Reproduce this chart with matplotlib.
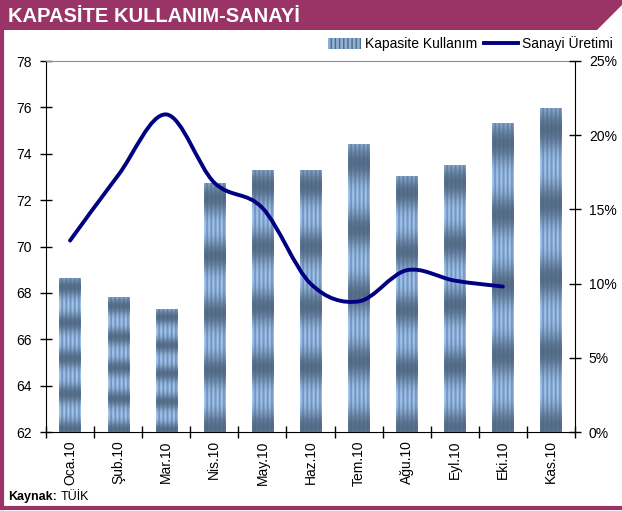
import numpy as np
import matplotlib.pyplot as plt
from matplotlib.path import Path
from matplotlib.patches import PathPatch, Patch, Polygon
from matplotlib.lines import Line2D
from matplotlib.ticker import FuncFormatter

plt.rcParams['font.family'] = ['Liberation Sans Narrow', 'Liberation Sans', 'DejaVu Sans']

# data
months = ["Oca.10", "Şub.10", "Mar.10", "Nis.10", "May.10", "Haz.10",
          "Tem.10", "Ağu.10", "Eyl.10", "Eki.10", "Kas.10"]
capacity = [68.65, 67.82, 67.30, 72.74, 73.30, 73.30, 74.42, 73.04, 73.51, 75.32, 75.97]
production = [12.9, 17.3, 21.4, 16.8, 15.1, 10.0, 8.8, 10.9, 10.2, 9.8]

plum = '#9B3466'
navy = '#000080'


def bar_texture(h=300, w=42, periods=4.35):
    y = np.linspace(0, 1, h)[:, None, None]
    x = np.arange(w)[None, :, None]
    light = np.array([0.62, 0.77, 0.94])
    mid = np.array([0.47, 0.59, 0.74])
    dark = np.array([0.30, 0.39, 0.49])
    stripe = (x % 8 < 4).astype(float)
    base = mid + (light - mid) * stripe
    shade = 0.88 * (0.5 + 0.5 * np.cos(2 * np.pi * (periods * y - 0.28))) ** 1.3
    return base * (1 - shade) + dark * shade


fig = plt.figure(figsize=(6.22, 5.11), dpi=100)
ax = fig.add_axes([46 / 622, 79 / 511, 529 / 622, 371 / 511])
ax2 = ax.twinx()

x = np.arange(len(months))
bars = ax.bar(x, capacity, width=0.44, color='#8FAFD3', linewidth=0, zorder=2)
ymin, ymax = 62, 78
for rect in bars:
    x0, w = rect.get_x(), rect.get_width()
    y1 = rect.get_y() + rect.get_height()
    im = ax.imshow(bar_texture(), extent=(x0, x0 + w, ymin, y1), aspect='auto',
                   interpolation='bilinear', zorder=3)
    im.set_clip_path(rect)

ax.set_xlim(-0.5, len(months) - 0.5)
ax.set_ylim(ymin, ymax)
ax.set_yticks(np.arange(62, 79, 2))
ax.set_xticks(np.arange(-0.5, len(months), 1))
ax.set_xticklabels([])
ax.set_xticks(x, minor=True)
ax.set_xticklabels(months, minor=True, rotation=90, fontsize=10)
ax.tick_params(axis='x', which='major', direction='inout', length=8, width=1)
ax.tick_params(axis='x', which='minor', length=0, pad=6)
ax.tick_params(axis='y', direction='inout', length=8, width=1, labelsize=10, pad=6)
ax.spines['top'].set_color('#909090')
ax.spines['right'].set_visible(False)

# smooth line as bezier segments through the data points
pts = np.column_stack([np.arange(len(production)), production])
ext = np.vstack([pts[0], pts, pts[-1]])
verts = [pts[0]]
codes = [Path.MOVETO]
for i in range(len(pts) - 1):
    p0, p1, p2, p3 = ext[i], ext[i + 1], ext[i + 2], ext[i + 3]
    verts += [p1 + (p2 - p0) / 6, p2 - (p3 - p1) / 6, p2]
    codes += [Path.CURVE4] * 3
ax2.add_patch(PathPatch(Path(verts, codes), fill=False, edgecolor=navy,
                        linewidth=2.8, capstyle='round', joinstyle='round', zorder=4))
ax2.set_ylim(0, 25)
ax2.set_yticks(np.arange(0, 26, 5))
ax2.yaxis.set_major_formatter(FuncFormatter(lambda v, p: f"{v:.0f}%"))
ax2.tick_params(axis='y', direction='inout', length=8, width=1, labelsize=10, pad=6)
for s in ['top', 'left', 'bottom']:
    ax2.spines[s].set_visible(False)

# legend
handles = [Patch(facecolor='#8FAFD3', edgecolor='#4E6A8C', hatch='||||', linewidth=0),
           Line2D([], [], color=navy, linewidth=2.8)]
fig.legend(handles, ["Kapasite Kullanım", "Sanayi Üretimi"], ncol=2, loc='center right',
           bbox_to_anchor=(1.005, 1 - 44 / 511), frameon=False, fontsize=10,
           handlelength=2.4, handleheight=0.8, handletextpad=0.3, columnspacing=0.5)

# frame and title band
fig.patches.append(Polygon([(0, 1), (1, 1), (1, 1 - 5 / 511), (597 / 622, 1 - 30 / 511), (0, 1 - 30 / 511)],
                           closed=True, facecolor=plum, edgecolor='none', transform=fig.transFigure))
fig.add_artist(Line2D([2 / 622, 2 / 622], [1 - 30 / 511, 1 - 508 / 511], color=plum, linewidth=3,
                      transform=fig.transFigure))
fig.add_artist(Line2D([0, 1], [1 - 508 / 511, 1 - 508 / 511], color=plum, linewidth=3,
                      transform=fig.transFigure))
fig.text(8 / 622, 1 - 16 / 511, "KAPASİTE KULLANIM-SANAYİ", color='white', fontsize=14.5,
         fontweight='bold', va='center', family=['Liberation Sans', 'DejaVu Sans'])
src = fig.text(8 / 622, 1 - 497 / 511, "Kaynak:", fontsize=9, fontweight='bold', va='center',
               family=['Liberation Sans', 'DejaVu Sans'])
fig.add_artist(plt.Annotation("TÜİK", xy=(1, 0.5), xycoords=src, xytext=(3, 0),
                              textcoords='offset points', fontsize=9, va='center',
                              family=['Liberation Sans', 'DejaVu Sans']))

fig.savefig('out.png', dpi=100)
